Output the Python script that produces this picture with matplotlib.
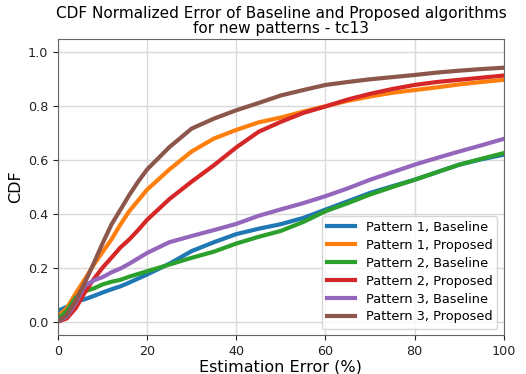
import matplotlib
matplotlib.use("Agg")
import matplotlib.pyplot as plt

x_err = [0, 2, 4, 6, 8, 10, 12, 14, 16, 18, 20, 25, 30, 35, 40, 45, 50, 55, 60, 65, 70, 75, 80, 85, 90, 95, 100]

p1_base = [0.04, 0.055, 0.075, 0.083, 0.095, 0.108, 0.12, 0.131, 0.145, 0.16, 0.175, 0.215, 0.262, 0.295, 0.325, 0.345, 0.362, 0.385, 0.416, 0.447, 0.478, 0.503, 0.527, 0.555, 0.583, 0.603, 0.62]
p1_prop = [0.02, 0.05, 0.105, 0.156, 0.21, 0.258, 0.305, 0.36, 0.41, 0.45, 0.49, 0.565, 0.632, 0.68, 0.712, 0.74, 0.758, 0.78, 0.80, 0.82, 0.836, 0.85, 0.86, 0.87, 0.881, 0.89, 0.898]
p2_base = [0.01, 0.04, 0.09, 0.113, 0.123, 0.138, 0.148, 0.155, 0.167, 0.177, 0.187, 0.212, 0.237, 0.26, 0.29, 0.315, 0.337, 0.37, 0.41, 0.44, 0.472, 0.50, 0.527, 0.555, 0.583, 0.605, 0.626]
p2_prop = [0.0, 0.012, 0.05, 0.107, 0.157, 0.20, 0.237, 0.275, 0.305, 0.34, 0.378, 0.455, 0.52, 0.581, 0.647, 0.705, 0.742, 0.775, 0.799, 0.825, 0.846, 0.864, 0.879, 0.89, 0.898, 0.906, 0.914]
p3_base = [0.0, 0.02, 0.07, 0.132, 0.153, 0.165, 0.183, 0.197, 0.215, 0.235, 0.255, 0.295, 0.318, 0.34, 0.363, 0.393, 0.417, 0.44, 0.466, 0.495, 0.527, 0.555, 0.583, 0.608, 0.632, 0.655, 0.679]
p3_prop = [0.0, 0.025, 0.078, 0.143, 0.215, 0.29, 0.36, 0.415, 0.47, 0.52, 0.565, 0.648, 0.717, 0.754, 0.785, 0.812, 0.84, 0.86, 0.879, 0.89, 0.90, 0.908, 0.916, 0.925, 0.932, 0.938, 0.943]

series = [
    ("Pattern 1, Baseline", p1_base, "#1f77b4"),
    ("Pattern 1, Proposed", p1_prop, "#ff7f0e"),
    ("Pattern 2, Baseline", p2_base, "#2ca02c"),
    ("Pattern 2, Proposed", p2_prop, "#d62728"),
    ("Pattern 3, Baseline", p3_base, "#9467bd"),
    ("Pattern 3, Proposed", p3_prop, "#8c564b"),
]

fig = plt.figure(figsize=(5.26, 3.74), dpi=100)
ax = fig.add_axes([0.110, 0.104, 0.848, 0.792])

for label, vals, col in series:
    ax.plot(x_err, vals, color=col, lw=3, label=label)

ax.set_xlim(0, 100)
ax.set_ylim(-0.05, 1.05)
ax.set_xticks([0, 20, 40, 60, 80, 100])
ax.set_yticks([0.0, 0.2, 0.4, 0.6, 0.8, 1.0])
ax.grid(True, color="#d9d9d9", lw=1)
ax.set_axisbelow(True)
for s in ax.spines.values():
    s.set_color("#666666")
ax.tick_params(labelsize=9.2, colors="#222222")

ax.set_xlabel("Estimation Error (%)", fontsize=11.5, labelpad=1)
ax.set_ylabel("CDF", fontsize=11.5, labelpad=3)
ax.set_title("CDF Normalized Error of Baseline and Proposed algorithms\nfor new patterns - tc13", fontsize=11.0, linespacing=1.0, pad=4)
ax.legend(loc="lower right", fontsize=9.3, handlelength=2.2, labelspacing=0.38, borderpad=0.4)

fig.savefig("out.png", dpi=100)
